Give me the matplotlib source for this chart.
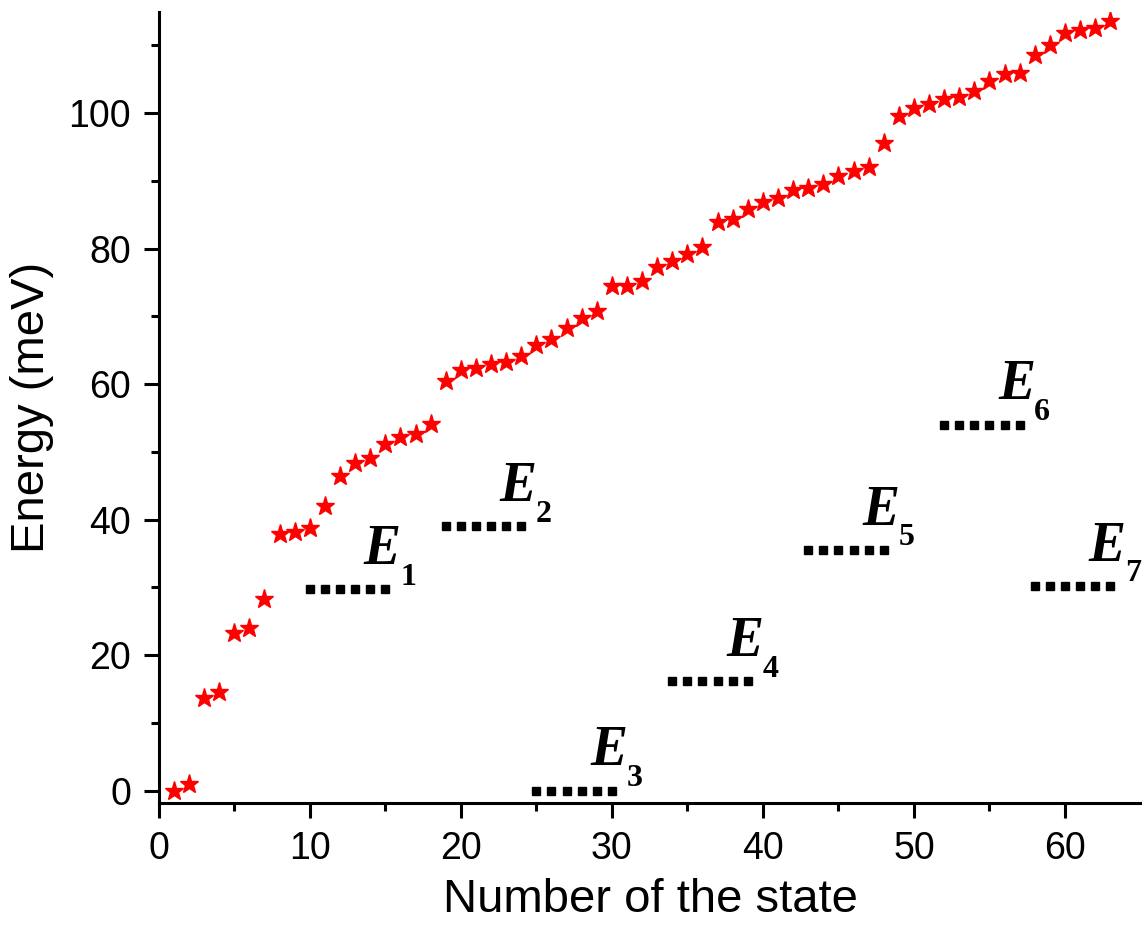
import numpy as np
import matplotlib
matplotlib.use('Agg')
import matplotlib.pyplot as plt

# energies of the states (meV), state number = index + 1
energy = [0.0, 1.0, 13.7, 14.6, 23.2, 24.0, 28.3, 37.9, 38.1, 38.8,
          42.0, 46.5, 48.4, 49.1, 51.2, 52.2, 52.7, 54.1, 60.5, 62.1,
          62.4, 63.0, 63.3, 64.2, 65.8, 66.7, 68.2, 69.8, 70.8, 74.5,
          74.5, 75.2, 77.3, 78.2, 79.2, 80.2, 83.9, 84.4, 85.8, 86.9,
          87.5, 88.6, 88.9, 89.5, 90.7, 91.4, 92.1, 95.6, 99.5, 100.8,
          101.4, 102.0, 102.3, 103.3, 104.7, 105.8, 105.9, 108.5, 110.0, 111.8,
          112.3, 112.6, 113.6]
states = np.arange(1, len(energy) + 1)

# averaged levels E1..E7: first state, last state, energy
level_names = ['1', '2', '3', '4', '5', '6', '7']
level_start = [10, 19, 25, 34, 43, 52, 58]
level_end = [15, 24, 30, 39, 48, 57, 63]
level_energy = [29.7, 39.0, 0.0, 16.1, 35.5, 54.0, 30.2]

xticks = [0, 10, 20, 30, 40, 50, 60]
yticks = [0, 20, 40, 60, 80, 100]

fig = plt.figure(figsize=(11.42, 9.27), dpi=100)
ax = fig.add_axes([0.139, 0.134, 0.861, 0.853])

ax.plot(states, energy, linestyle='none', marker='*', markersize=14,
        color='red', markeredgecolor='red', zorder=3)

for name, a, b, e in zip(level_names, level_start, level_end, level_energy):
    xs = np.arange(a, b + 1)
    ax.plot(xs, [e] * len(xs), linestyle='none', marker='s', markersize=5.6,
            color='black', zorder=3)
    ax.text(b - 0.2, e + 5.8, 'E', fontfamily='Liberation Serif', fontsize=40,
            fontweight='bold', fontstyle='italic', ha='center', va='center')
    ax.text(b + 1.5, e + 1.8, name, fontfamily='Liberation Serif', fontsize=23,
            fontweight='bold', ha='center', va='center')

ax.set_xlim(0, 65.1)
ax.set_ylim(-1.8, 114.9)
ax.set_xticks(xticks)
ax.set_yticks(yticks)
ax.set_xticks(np.arange(5, 65, 10), minor=True)
ax.set_yticks(np.arange(10, 115, 20), minor=True)

for s in ['top', 'right']:
    ax.spines[s].set_visible(False)
for s in ['left', 'bottom']:
    ax.spines[s].set_linewidth(2.2)

ax.tick_params(which='major', direction='out', length=11, width=2.2,
               labelsize=27, pad=9)
ax.tick_params(which='minor', direction='out', length=6, width=2.2)
for lab in ax.get_xticklabels() + ax.get_yticklabels():
    lab.set_fontfamily('Liberation Sans')

ax.set_xlabel('Number of the state', fontfamily='Liberation Sans', fontsize=34, labelpad=8)
ax.set_ylabel('Energy (meV)', fontfamily='Liberation Sans', fontsize=34, labelpad=10)

fig.savefig('out.png', dpi=100)
